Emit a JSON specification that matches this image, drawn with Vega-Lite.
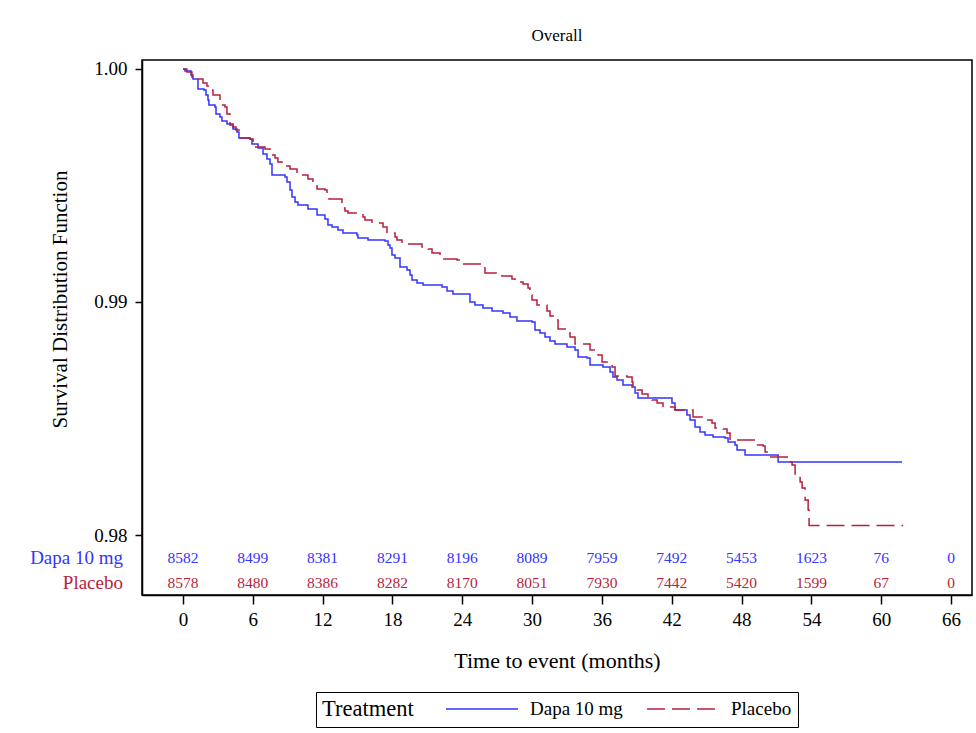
{
  "$schema": "https://vega.github.io/schema/vega-lite/v6.json",
  "width": 830,
  "height": 535,
  "autosize": {"type": "none"},
  "padding": {"left": 142, "top": 60, "right": 4, "bottom": 138},
  "background": "white",
  "config": {
    "font": "Liberation Serif",
    "view": {"stroke": "black", "strokeWidth": 1.5},
    "axis": {"grid": false, "domainColor": "black", "tickColor": "black", "labelColor": "black", "titleColor": "black", "titleFontWeight": "normal", "labelFont": "Liberation Serif", "titleFont": "Liberation Serif"},
    "legend": {"labelFont": "Liberation Serif", "titleFont": "Liberation Serif"}
  },
  "title": {"text": "Overall", "fontSize": 17, "fontWeight": "normal", "color": "black", "offset": 15, "font": "Liberation Serif"},
  "datasets": {
    "km": [
      {"trt": "Dapa 10 mg", "t": 0, "s": 1.0},
      {"trt": "Dapa 10 mg", "t": 0.17, "s": 0.99991},
      {"trt": "Dapa 10 mg", "t": 0.69, "s": 0.99974},
      {"trt": "Dapa 10 mg", "t": 0.86, "s": 0.99957},
      {"trt": "Dapa 10 mg", "t": 1.29, "s": 0.99914},
      {"trt": "Dapa 10 mg", "t": 1.80, "s": 0.99910},
      {"trt": "Dapa 10 mg", "t": 1.98, "s": 0.99888},
      {"trt": "Dapa 10 mg", "t": 2.15, "s": 0.99867},
      {"trt": "Dapa 10 mg", "t": 2.23, "s": 0.99845},
      {"trt": "Dapa 10 mg", "t": 2.75, "s": 0.99837},
      {"trt": "Dapa 10 mg", "t": 2.84, "s": 0.99807},
      {"trt": "Dapa 10 mg", "t": 3.18, "s": 0.99794},
      {"trt": "Dapa 10 mg", "t": 3.35, "s": 0.99777},
      {"trt": "Dapa 10 mg", "t": 3.78, "s": 0.99764},
      {"trt": "Dapa 10 mg", "t": 4.04, "s": 0.99760},
      {"trt": "Dapa 10 mg", "t": 4.30, "s": 0.99742},
      {"trt": "Dapa 10 mg", "t": 4.64, "s": 0.99730},
      {"trt": "Dapa 10 mg", "t": 4.81, "s": 0.99704},
      {"trt": "Dapa 10 mg", "t": 5.76, "s": 0.99700},
      {"trt": "Dapa 10 mg", "t": 5.93, "s": 0.99678},
      {"trt": "Dapa 10 mg", "t": 6.45, "s": 0.99661},
      {"trt": "Dapa 10 mg", "t": 6.88, "s": 0.99635},
      {"trt": "Dapa 10 mg", "t": 7.22, "s": 0.99614},
      {"trt": "Dapa 10 mg", "t": 7.48, "s": 0.99592},
      {"trt": "Dapa 10 mg", "t": 7.65, "s": 0.99545},
      {"trt": "Dapa 10 mg", "t": 8.77, "s": 0.99536},
      {"trt": "Dapa 10 mg", "t": 8.94, "s": 0.99515},
      {"trt": "Dapa 10 mg", "t": 9.20, "s": 0.99481},
      {"trt": "Dapa 10 mg", "t": 9.37, "s": 0.99451},
      {"trt": "Dapa 10 mg", "t": 9.63, "s": 0.99429},
      {"trt": "Dapa 10 mg", "t": 9.88, "s": 0.99416},
      {"trt": "Dapa 10 mg", "t": 10.74, "s": 0.99399},
      {"trt": "Dapa 10 mg", "t": 11.52, "s": 0.99373},
      {"trt": "Dapa 10 mg", "t": 12.20, "s": 0.99356},
      {"trt": "Dapa 10 mg", "t": 12.46, "s": 0.99330},
      {"trt": "Dapa 10 mg", "t": 12.81, "s": 0.99322},
      {"trt": "Dapa 10 mg", "t": 13.32, "s": 0.99309},
      {"trt": "Dapa 10 mg", "t": 13.75, "s": 0.99296},
      {"trt": "Dapa 10 mg", "t": 14.95, "s": 0.99288},
      {"trt": "Dapa 10 mg", "t": 15.04, "s": 0.99275},
      {"trt": "Dapa 10 mg", "t": 15.90, "s": 0.99266},
      {"trt": "Dapa 10 mg", "t": 17.36, "s": 0.99262},
      {"trt": "Dapa 10 mg", "t": 17.62, "s": 0.99245},
      {"trt": "Dapa 10 mg", "t": 17.79, "s": 0.99232},
      {"trt": "Dapa 10 mg", "t": 17.96, "s": 0.99202},
      {"trt": "Dapa 10 mg", "t": 18.22, "s": 0.99189},
      {"trt": "Dapa 10 mg", "t": 18.65, "s": 0.99150},
      {"trt": "Dapa 10 mg", "t": 19.25, "s": 0.99137},
      {"trt": "Dapa 10 mg", "t": 19.51, "s": 0.99116},
      {"trt": "Dapa 10 mg", "t": 19.68, "s": 0.99094},
      {"trt": "Dapa 10 mg", "t": 20.11, "s": 0.99082},
      {"trt": "Dapa 10 mg", "t": 20.63, "s": 0.99073},
      {"trt": "Dapa 10 mg", "t": 22.26, "s": 0.99064},
      {"trt": "Dapa 10 mg", "t": 22.69, "s": 0.99047},
      {"trt": "Dapa 10 mg", "t": 23.20, "s": 0.99034},
      {"trt": "Dapa 10 mg", "t": 24.66, "s": 0.99000},
      {"trt": "Dapa 10 mg", "t": 25.09, "s": 0.98987},
      {"trt": "Dapa 10 mg", "t": 25.78, "s": 0.98974},
      {"trt": "Dapa 10 mg", "t": 26.56, "s": 0.98961},
      {"trt": "Dapa 10 mg", "t": 27.50, "s": 0.98953},
      {"trt": "Dapa 10 mg", "t": 28.10, "s": 0.98936},
      {"trt": "Dapa 10 mg", "t": 28.70, "s": 0.98918},
      {"trt": "Dapa 10 mg", "t": 29.99, "s": 0.98914},
      {"trt": "Dapa 10 mg", "t": 30.25, "s": 0.98880},
      {"trt": "Dapa 10 mg", "t": 30.68, "s": 0.98867},
      {"trt": "Dapa 10 mg", "t": 31.11, "s": 0.98850},
      {"trt": "Dapa 10 mg", "t": 31.54, "s": 0.98833},
      {"trt": "Dapa 10 mg", "t": 31.97, "s": 0.98820},
      {"trt": "Dapa 10 mg", "t": 33.00, "s": 0.98807},
      {"trt": "Dapa 10 mg", "t": 33.69, "s": 0.98794},
      {"trt": "Dapa 10 mg", "t": 33.95, "s": 0.98764},
      {"trt": "Dapa 10 mg", "t": 34.72, "s": 0.98760},
      {"trt": "Dapa 10 mg", "t": 34.98, "s": 0.98730},
      {"trt": "Dapa 10 mg", "t": 36.09, "s": 0.98721},
      {"trt": "Dapa 10 mg", "t": 36.70, "s": 0.98700},
      {"trt": "Dapa 10 mg", "t": 36.95, "s": 0.98678},
      {"trt": "Dapa 10 mg", "t": 37.30, "s": 0.98665},
      {"trt": "Dapa 10 mg", "t": 37.81, "s": 0.98644},
      {"trt": "Dapa 10 mg", "t": 38.59, "s": 0.98635},
      {"trt": "Dapa 10 mg", "t": 38.85, "s": 0.98609},
      {"trt": "Dapa 10 mg", "t": 39.10, "s": 0.98588},
      {"trt": "Dapa 10 mg", "t": 42.02, "s": 0.98567},
      {"trt": "Dapa 10 mg", "t": 42.28, "s": 0.98536},
      {"trt": "Dapa 10 mg", "t": 43.31, "s": 0.98515},
      {"trt": "Dapa 10 mg", "t": 43.57, "s": 0.98494},
      {"trt": "Dapa 10 mg", "t": 44.00, "s": 0.98463},
      {"trt": "Dapa 10 mg", "t": 44.43, "s": 0.98442},
      {"trt": "Dapa 10 mg", "t": 44.86, "s": 0.98429},
      {"trt": "Dapa 10 mg", "t": 45.55, "s": 0.98421},
      {"trt": "Dapa 10 mg", "t": 46.58, "s": 0.98416},
      {"trt": "Dapa 10 mg", "t": 46.84, "s": 0.98399},
      {"trt": "Dapa 10 mg", "t": 47.44, "s": 0.98386},
      {"trt": "Dapa 10 mg", "t": 47.61, "s": 0.98365},
      {"trt": "Dapa 10 mg", "t": 48.30, "s": 0.98343},
      {"trt": "Dapa 10 mg", "t": 51.14, "s": 0.98313},
      {"trt": "Dapa 10 mg", "t": 61.79, "s": 0.98313},
      {"trt": "Placebo", "t": 0, "s": 1.0},
      {"trt": "Placebo", "t": 0.34, "s": 0.99987},
      {"trt": "Placebo", "t": 0.77, "s": 0.99966},
      {"trt": "Placebo", "t": 1.29, "s": 0.99957},
      {"trt": "Placebo", "t": 1.72, "s": 0.99940},
      {"trt": "Placebo", "t": 2.06, "s": 0.99927},
      {"trt": "Placebo", "t": 2.49, "s": 0.99910},
      {"trt": "Placebo", "t": 2.58, "s": 0.99888},
      {"trt": "Placebo", "t": 3.18, "s": 0.99845},
      {"trt": "Placebo", "t": 3.61, "s": 0.99837},
      {"trt": "Placebo", "t": 3.78, "s": 0.99807},
      {"trt": "Placebo", "t": 4.04, "s": 0.99764},
      {"trt": "Placebo", "t": 4.30, "s": 0.99751},
      {"trt": "Placebo", "t": 4.55, "s": 0.99738},
      {"trt": "Placebo", "t": 4.90, "s": 0.99704},
      {"trt": "Placebo", "t": 5.76, "s": 0.99700},
      {"trt": "Placebo", "t": 6.02, "s": 0.99665},
      {"trt": "Placebo", "t": 7.05, "s": 0.99657},
      {"trt": "Placebo", "t": 7.48, "s": 0.99631},
      {"trt": "Placebo", "t": 7.91, "s": 0.99618},
      {"trt": "Placebo", "t": 8.16, "s": 0.99601},
      {"trt": "Placebo", "t": 8.51, "s": 0.99584},
      {"trt": "Placebo", "t": 9.20, "s": 0.99571},
      {"trt": "Placebo", "t": 9.80, "s": 0.99545},
      {"trt": "Placebo", "t": 10.74, "s": 0.99528},
      {"trt": "Placebo", "t": 11.17, "s": 0.99511},
      {"trt": "Placebo", "t": 11.52, "s": 0.99485},
      {"trt": "Placebo", "t": 12.20, "s": 0.99481},
      {"trt": "Placebo", "t": 12.38, "s": 0.99459},
      {"trt": "Placebo", "t": 12.55, "s": 0.99442},
      {"trt": "Placebo", "t": 13.66, "s": 0.99403},
      {"trt": "Placebo", "t": 13.92, "s": 0.99391},
      {"trt": "Placebo", "t": 14.18, "s": 0.99382},
      {"trt": "Placebo", "t": 15.47, "s": 0.99365},
      {"trt": "Placebo", "t": 15.64, "s": 0.99352},
      {"trt": "Placebo", "t": 16.24, "s": 0.99339},
      {"trt": "Placebo", "t": 17.19, "s": 0.99322},
      {"trt": "Placebo", "t": 17.53, "s": 0.99296},
      {"trt": "Placebo", "t": 18.22, "s": 0.99279},
      {"trt": "Placebo", "t": 18.39, "s": 0.99266},
      {"trt": "Placebo", "t": 18.82, "s": 0.99253},
      {"trt": "Placebo", "t": 19.25, "s": 0.99249},
      {"trt": "Placebo", "t": 20.54, "s": 0.99236},
      {"trt": "Placebo", "t": 21.06, "s": 0.99227},
      {"trt": "Placebo", "t": 21.40, "s": 0.99210},
      {"trt": "Placebo", "t": 22.09, "s": 0.99202},
      {"trt": "Placebo", "t": 22.26, "s": 0.99185},
      {"trt": "Placebo", "t": 23.55, "s": 0.99180},
      {"trt": "Placebo", "t": 23.98, "s": 0.99163},
      {"trt": "Placebo", "t": 25.78, "s": 0.99154},
      {"trt": "Placebo", "t": 25.95, "s": 0.99124},
      {"trt": "Placebo", "t": 27.41, "s": 0.99112},
      {"trt": "Placebo", "t": 28.27, "s": 0.99099},
      {"trt": "Placebo", "t": 28.53, "s": 0.99086},
      {"trt": "Placebo", "t": 29.22, "s": 0.99077},
      {"trt": "Placebo", "t": 29.65, "s": 0.99060},
      {"trt": "Placebo", "t": 29.82, "s": 0.99030},
      {"trt": "Placebo", "t": 29.99, "s": 0.99009},
      {"trt": "Placebo", "t": 30.42, "s": 0.98987},
      {"trt": "Placebo", "t": 31.28, "s": 0.98961},
      {"trt": "Placebo", "t": 31.54, "s": 0.98940},
      {"trt": "Placebo", "t": 31.97, "s": 0.98923},
      {"trt": "Placebo", "t": 32.23, "s": 0.98884},
      {"trt": "Placebo", "t": 33.09, "s": 0.98867},
      {"trt": "Placebo", "t": 33.26, "s": 0.98850},
      {"trt": "Placebo", "t": 33.69, "s": 0.98820},
      {"trt": "Placebo", "t": 34.98, "s": 0.98794},
      {"trt": "Placebo", "t": 35.58, "s": 0.98785},
      {"trt": "Placebo", "t": 35.67, "s": 0.98772},
      {"trt": "Placebo", "t": 36.01, "s": 0.98742},
      {"trt": "Placebo", "t": 36.52, "s": 0.98738},
      {"trt": "Placebo", "t": 36.87, "s": 0.98721},
      {"trt": "Placebo", "t": 37.13, "s": 0.98682},
      {"trt": "Placebo", "t": 38.16, "s": 0.98678},
      {"trt": "Placebo", "t": 38.59, "s": 0.98657},
      {"trt": "Placebo", "t": 38.67, "s": 0.98635},
      {"trt": "Placebo", "t": 39.02, "s": 0.98622},
      {"trt": "Placebo", "t": 39.45, "s": 0.98605},
      {"trt": "Placebo", "t": 39.96, "s": 0.98592},
      {"trt": "Placebo", "t": 40.31, "s": 0.98579},
      {"trt": "Placebo", "t": 40.74, "s": 0.98567},
      {"trt": "Placebo", "t": 41.25, "s": 0.98549},
      {"trt": "Placebo", "t": 42.28, "s": 0.98536},
      {"trt": "Placebo", "t": 43.83, "s": 0.98506},
      {"trt": "Placebo", "t": 44.69, "s": 0.98494},
      {"trt": "Placebo", "t": 45.46, "s": 0.98481},
      {"trt": "Placebo", "t": 45.72, "s": 0.98459},
      {"trt": "Placebo", "t": 46.41, "s": 0.98455},
      {"trt": "Placebo", "t": 46.75, "s": 0.98438},
      {"trt": "Placebo", "t": 47.01, "s": 0.98408},
      {"trt": "Placebo", "t": 49.24, "s": 0.98386},
      {"trt": "Placebo", "t": 49.85, "s": 0.98382},
      {"trt": "Placebo", "t": 50.02, "s": 0.98356},
      {"trt": "Placebo", "t": 50.27, "s": 0.98335},
      {"trt": "Placebo", "t": 51.91, "s": 0.98313},
      {"trt": "Placebo", "t": 52.34, "s": 0.98300},
      {"trt": "Placebo", "t": 52.60, "s": 0.98257},
      {"trt": "Placebo", "t": 53.03, "s": 0.98227},
      {"trt": "Placebo", "t": 53.20, "s": 0.98202},
      {"trt": "Placebo", "t": 53.46, "s": 0.98150},
      {"trt": "Placebo", "t": 53.72, "s": 0.98107},
      {"trt": "Placebo", "t": 53.80, "s": 0.98041},
      {"trt": "Placebo", "t": 61.88, "s": 0.98041}
    ],
    "risk": [
      {"trt": "Dapa 10 mg", "t": 0, "n": 8582},
      {"trt": "Dapa 10 mg", "t": 6, "n": 8499},
      {"trt": "Dapa 10 mg", "t": 12, "n": 8381},
      {"trt": "Dapa 10 mg", "t": 18, "n": 8291},
      {"trt": "Dapa 10 mg", "t": 24, "n": 8196},
      {"trt": "Dapa 10 mg", "t": 30, "n": 8089},
      {"trt": "Dapa 10 mg", "t": 36, "n": 7959},
      {"trt": "Dapa 10 mg", "t": 42, "n": 7492},
      {"trt": "Dapa 10 mg", "t": 48, "n": 5453},
      {"trt": "Dapa 10 mg", "t": 54, "n": 1623},
      {"trt": "Dapa 10 mg", "t": 60, "n": 76},
      {"trt": "Dapa 10 mg", "t": 66, "n": 0},
      {"trt": "Placebo", "t": 0, "n": 8578},
      {"trt": "Placebo", "t": 6, "n": 8480},
      {"trt": "Placebo", "t": 12, "n": 8386},
      {"trt": "Placebo", "t": 18, "n": 8282},
      {"trt": "Placebo", "t": 24, "n": 8170},
      {"trt": "Placebo", "t": 30, "n": 8051},
      {"trt": "Placebo", "t": 36, "n": 7930},
      {"trt": "Placebo", "t": 42, "n": 7442},
      {"trt": "Placebo", "t": 48, "n": 5420},
      {"trt": "Placebo", "t": 54, "n": 1599},
      {"trt": "Placebo", "t": 60, "n": 67},
      {"trt": "Placebo", "t": 66, "n": 0}
    ]
  },
  "layer": [
    {
      "data": {"name": "km"},
      "mark": {"type": "line", "interpolate": "step-after", "strokeWidth": 1.5, "clip": true},
      "encoding": {
        "x": {"field": "t", "type": "quantitative",
              "scale": {"domain": [-3.52, 67.8], "nice": false, "zero": false},
              "axis": {"values": [0, 6, 12, 18, 24, 30, 36, 42, 48, 54, 60, 66], "title": "Time to event (months)", "labelFontSize": 19, "titleFontSize": 22, "tickSize": 9, "labelPadding": 6, "titlePadding": 21, "domainWidth": 1.5, "tickWidth": 1.5}},
        "y": {"field": "s", "type": "quantitative",
              "scale": {"domain": [0.977425, 1.000386], "nice": false, "zero": false},
              "axis": {"values": [0.98, 0.99, 1.0], "format": ".2f", "title": "Survival Distribution Function", "labelFontSize": 19, "titleFontSize": 21, "tickSize": 7, "labelPadding": 8, "titleX": -72, "titleY": 239, "domainWidth": 1.5, "tickWidth": 1.5}},
        "color": {"field": "trt", "type": "nominal",
                  "scale": {"domain": ["Dapa 10 mg", "Placebo"], "range": ["#3333FF", "#B71F3C"]},
                  "legend": {"title": "Treatment", "orient": "none", "legendX": 174, "legendY": 632, "direction": "horizontal", "titleOrient": "left", "titleFontSize": 22.5, "titleFontWeight": "normal", "titleColor": "black", "titlePadding": 57, "labelFontSize": 19, "labelColor": "black", "labelOffset": 37, "columnPadding": 21, "symbolType": "M-3.6,0H3.6", "symbolSize": 400, "symbolStrokeWidth": 1.5, "strokeColor": "black", "padding": 6, "titleBaseline": "middle", "titleAnchor": "middle"}},
        "strokeDash": {"field": "trt", "type": "nominal",
                       "scale": {"domain": ["Dapa 10 mg", "Placebo"], "range": [[1, 0], [18, 7]]},
                       "legend": {"title": "Treatment"}}
      }
    },
    {
      "data": {"name": "risk"},
      "transform": [{"filter": "datum.trt === 'Dapa 10 mg'"}],
      "mark": {"type": "text", "fontSize": 15.5, "color": "#3333FF", "align": "center", "baseline": "middle"},
      "encoding": {
        "x": {"field": "t", "type": "quantitative"},
        "y": {"datum": 0.97901},
        "text": {"field": "n", "type": "quantitative"}
      }
    },
    {
      "data": {"name": "risk"},
      "transform": [{"filter": "datum.trt === 'Placebo'"}],
      "mark": {"type": "text", "fontSize": 15.5, "color": "#B71F3C", "align": "center", "baseline": "middle"},
      "encoding": {
        "x": {"field": "t", "type": "quantitative"},
        "y": {"datum": 0.97794},
        "text": {"field": "n", "type": "quantitative"}
      }
    },
    {
      "data": {"values": [{"lab": "Dapa 10 mg"}]},
      "mark": {"type": "text", "fontSize": 19, "color": "#3333FF", "align": "right", "baseline": "middle", "dx": -19},
      "encoding": {
        "x": {"datum": -3.52},
        "y": {"datum": 0.97901},
        "text": {"field": "lab"}
      }
    },
    {
      "data": {"values": [{"lab": "Placebo"}]},
      "mark": {"type": "text", "fontSize": 19, "color": "#B71F3C", "align": "right", "baseline": "middle", "dx": -19},
      "encoding": {
        "x": {"datum": -3.52},
        "y": {"datum": 0.97794},
        "text": {"field": "lab"}
      }
    }
  ]
}
